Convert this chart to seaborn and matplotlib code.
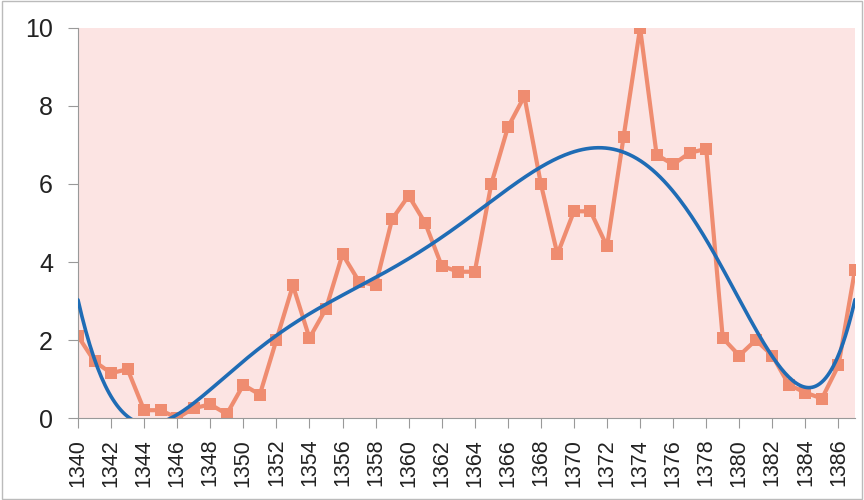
import numpy as np
import pandas as pd
import matplotlib
matplotlib.use('Agg')
import matplotlib.pyplot as plt
import seaborn as sns

years = list(range(1340, 1388))
values = [2.1, 1.45, 1.15, 1.25, 0.2, 0.2, 0.0, 0.25, 0.35, 0.1,
          0.85, 0.6, 2.0, 3.4, 2.05, 2.8, 4.2, 3.5, 3.4, 5.1,
          5.7, 5.0, 3.9, 3.75, 3.75, 6.0, 7.45, 8.25, 6.0, 4.2,
          5.3, 5.3, 4.4, 7.2, 10.0, 6.75, 6.5, 6.8, 6.9, 2.05,
          1.6, 2.0, 1.6, 0.85, 0.65, 0.5, 1.35, 3.8]
x_ticks = list(range(1340, 1388, 2))
y_ticks = [0, 2, 4, 6, 8, 10]

df = pd.DataFrame({'year': years, 'value': values})

# polynomial trendline, like the spreadsheet one
coef = np.polyfit(df['year'] - 1340, df['value'], 6)
trend_x = np.linspace(1340, 1387, 400)
trend = pd.DataFrame({'year': trend_x, 'value': np.polyval(coef, trend_x - 1340)})

sns.set_style('white')
plt.rcParams['font.family'] = ['Liberation Sans', 'DejaVu Sans']

fig = plt.figure(figsize=(8.64, 5), dpi=100)
ax = fig.add_axes([78 / 864, 82 / 500, 777 / 864, 390 / 500])
ax.set_facecolor('#fce4e3')

sns.lineplot(data=df, x='year', y='value', ax=ax, color='#ef8c70', linewidth=3,
             marker='s', markersize=8, markeredgewidth=0, zorder=2)
sns.lineplot(data=trend, x='year', y='value', ax=ax, color='#1f6cb5', linewidth=2.6, zorder=3)

ax.set_xlim(1340, 1387)
ax.set_ylim(0, 10)
ax.set_xticks(x_ticks)
ax.set_yticks(y_ticks)
ax.set_xticklabels([str(t) for t in x_ticks], rotation=90)
ax.tick_params(axis='x', labelsize=15.5, length=7, width=0.8, pad=8,
               direction='out', bottom=True, colors='#999999', labelcolor='#222222')
ax.tick_params(axis='y', labelsize=18, length=7, width=0.8, pad=11,
               direction='out', left=True, colors='#999999', labelcolor='#222222')
ax.set_xlabel('')
ax.set_ylabel('')
for side in ['top', 'right']:
    ax.spines[side].set_visible(False)
for side in ['left', 'bottom']:
    ax.spines[side].set_color('#999999')
    ax.spines[side].set_linewidth(0.8)

fig.patches.append(plt.Rectangle((0.002, 0.002), 0.996, 0.996, transform=fig.transFigure,
                                 fill=False, edgecolor='#bbbbbb', linewidth=1))

fig.savefig('out.png', dpi=100)
